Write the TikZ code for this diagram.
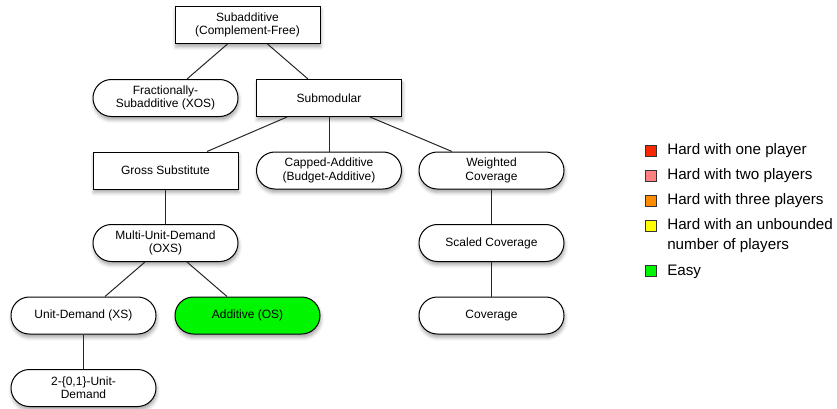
\documentclass[tikz,border=0pt]{standalone}
\usepackage{fontspec}
\setmainfont{Liberation Sans}
\usetikzlibrary{calc,shadows.blur}

\definecolor{hardone}{RGB}{246,40,0}
\definecolor{hardtwo}{RGB}{255,128,128}
\definecolor{hardthree}{RGB}{255,140,0}
\definecolor{hardmany}{RGB}{255,255,0}
\definecolor{easy}{RGB}{0,245,0}

\tikzset{
  class/.style={draw=black, line width=0.75pt, fill=white,
    minimum width=108.75pt, minimum height=27.75pt, inner sep=0pt,
    align=center, font=\fontsize{9}{10}\selectfont,
    blur shadow={shadow xshift=0.6pt, shadow yshift=-2.6pt,
      shadow blur radius=2.6pt, shadow opacity=35}},
  boxclass/.style={class},
  pillclass/.style={class, rounded corners=13.8pt},
  link/.style={draw=black!85, line width=0.75pt},
  swatch/.style={draw=black!80, line width=0.7pt, minimum size=8.5pt, inner sep=0pt},
  legendtext/.style={anchor=west, inner sep=0pt, align=left,
    font=\fontsize{11.4}{15}\selectfont}
}

\begin{document}
\begin{tikzpicture}[x=0.75pt, y=-0.75pt]
  \useasboundingbox (0,0) rectangle (837,408);

  % class hierarchy
  \node[boxclass]  (subadd) at (247.5,25)  {Subadditive\\(Complement-Free)};
  \node[pillclass] (xos)    at (165.5,98)  {Fractionally-\\Subadditive (XOS)};
  \node[boxclass]  (submod) at (329,98)    {Submodular};
  \node[boxclass]  (gross)  at (165.5,170.5) {Gross Substitute};
  \node[pillclass] (capped) at (329,170.5) {Capped-Additive\\(Budget-Additive)};
  \node[pillclass] (wcov)   at (491.5,170.5) {Weighted\\Coverage};
  \node[pillclass] (oxs)    at (165.5,243) {Multi-Unit-Demand\\(OXS)};
  \node[pillclass] (scov)   at (491.5,243) {Scaled Coverage};
  \node[pillclass] (xs)     at (83.5,315.5) {Unit-Demand (XS)};
  \node[pillclass, fill=easy] (os) at (247.5,315.5) {Additive (OS)};
  \node[pillclass] (cov)    at (491.5,315.5) {Coverage};
  \node[pillclass] (ud01)   at (83.5,388)  {2-\{0,1\}-Unit-\\Demand};

  % inclusion links
  \draw[link] ($(subadd.south)+(-20,0)$) -- ($(xos.north)+(21.5,0)$);
  \draw[link] ($(subadd.south)+(20,0)$)  -- ($(submod.north)+(-21,0)$);
  \draw[link] ($(submod.south)+(-42,0)$) -- ($(gross.north)+(41.5,0)$);
  \draw[link] (submod.south) -- (capped.north);
  \draw[link] ($(submod.south)+(41,0)$)  -- ($(wcov.north)+(-39.5,0)$);
  \draw[link] (gross.south) -- (oxs.north);
  \draw[link] ($(oxs.south)+(-20.5,0)$)  -- ($(xs.north)+(21.5,0)$);
  \draw[link] ($(oxs.south)+(21.5,0)$)   -- ($(os.north)+(-20.5,0)$);
  \draw[link] (xs.south) -- (ud01.north);
  \draw[link] (wcov.south) -- (scov.north);
  \draw[link] (scov.south) -- (cov.north);

  % legend
  \node[swatch, fill=hardone]   (k1) at (651,151) {};
  \node[swatch, fill=hardtwo]   (k2) at (651,176) {};
  \node[swatch, fill=hardthree] (k3) at (651,201) {};
  \node[swatch, fill=hardmany]  (k4) at (651,226) {};
  \node[swatch, fill=easy]      (k5) at (651,271) {};
  \node[legendtext] (t1) at (667,151) {Hard with one player};
  \node[legendtext] (t2) at (667,176) {Hard with two players};
  \node[legendtext] (t3) at (667,201) {Hard with three players};
  \node[legendtext] (t4) at (667,236) {Hard with an unbounded\\number of players};
  \node[legendtext] (t5) at (667,272) {Easy};
\end{tikzpicture}
\end{document}
